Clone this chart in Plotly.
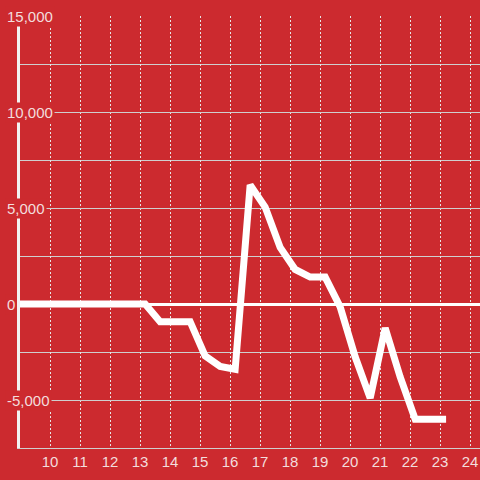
import plotly.graph_objects as go

# Colors
bg_color = '#cc2a2f'
text_color = '#f3dddd'
grid_color = '#cfcfcf'

# Data
hours = [9, 13.17, 13.67, 14.17, 14.67, 15.17, 15.67, 16.17, 16.67, 17.17, 17.67,
         18.17, 18.67, 19.17, 19.67, 20.17, 20.67, 21.17, 21.67, 22.17, 23.2]
values = [0, 0, -920, -920, -920, -2700, -3250, -3400, 6200, 5050, 2950,
          1800, 1400, 1400, -150, -2750, -4900, -1250, -3800, -6000, -6000]

x_ticks = list(range(10, 25))
y_label_vals = [15000, 10000, 5000, 0, -5000]
y_label_text = ['15,000', '10,000', '5,000', '0', '-5,000']

fig = go.Figure()

fig.add_trace(go.Scatter(
    x=hours,
    y=values,
    mode='lines',
    line=dict(color='white', width=7),
    hoverinfo='skip'
))

# y labels drawn over the axis line with a background box
for v, t in zip(y_label_vals, y_label_text):
    fig.add_annotation(
        x=-15 / 460, xref='paper', xanchor='left',
        y=v, yref='y', yanchor='middle',
        text=t, showarrow=False,
        bgcolor=bg_color, borderpad=1,
        font=dict(color=text_color, size=15)
    )

fig.update_layout(
    width=480, height=480,
    margin=dict(l=20, r=0, t=16, b=32),
    paper_bgcolor=bg_color,
    plot_bgcolor=bg_color,
    showlegend=False,
    font=dict(family='Liberation Sans, Arial, sans-serif', color=text_color, size=15),
    xaxis=dict(
        range=[9, 24.33],
        tickvals=x_ticks,
        showgrid=True, gridcolor='#e6e6e6', griddash='2px,2px', gridwidth=1,
        showline=True, linecolor=grid_color, linewidth=1,
        zeroline=False, ticks='', ticklen=0,
        automargin=False,
    ),
    yaxis=dict(
        range=[-7500, 15000],
        tickvals=y_label_vals,
        showticklabels=False,
        showgrid=True, gridcolor=grid_color, gridwidth=1,
        minor=dict(dtick=2500, showgrid=True, gridcolor=grid_color, gridwidth=1),
        zeroline=True, zerolinecolor='white', zerolinewidth=3,
        showline=True, linecolor='#f2f2f2', linewidth=3,
        automargin=False,
    ),
)

fig.write_html("out.html", config={'displayModeBar': False},
               post_script="document.body.style.margin='0px';")
